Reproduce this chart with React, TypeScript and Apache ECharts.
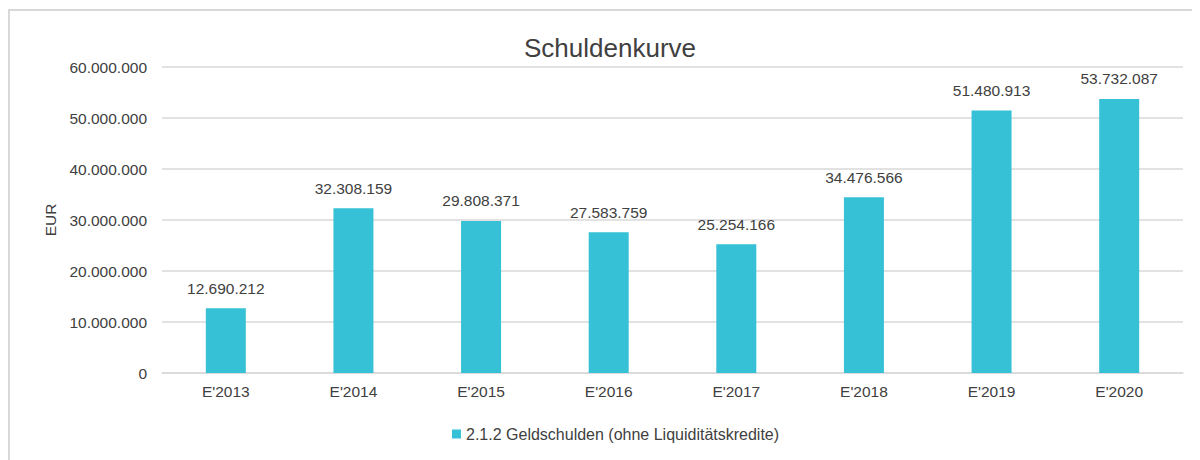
import React, { useEffect, useRef } from "react";
import * as echarts from "echarts";

const categories = ["E'2013", "E'2014", "E'2015", "E'2016", "E'2017", "E'2018", "E'2019", "E'2020"];
const values = [12690212, 32308159, 29808371, 27583759, 25254166, 34476566, 51480913, 53732087];
const seriesName = "2.1.2 Geldschulden (ohne Liquiditätskredite)";
const chartTitle = "Schuldenkurve";
const yAxisName = "EUR";
const yMax = 60000000;
const yInterval = 10000000;

const FONT = "'Liberation Sans', Arial, sans-serif";
const TEXT = "#404040";

function fmt(v: number): string {
  return Math.round(v).toString().replace(/\B(?=(\d{3})+(?!\d))/g, ".");
}

export default function App() {
  const ref = useRef<HTMLDivElement>(null);
  useEffect(() => {
    if (!ref.current) return;
    const chart = echarts.init(ref.current, undefined, { renderer: "svg" });
    chart.setOption({
      animation: false,
      textStyle: { fontFamily: FONT, color: TEXT },
      graphic: [
        {
          type: "rect",
          shape: { x: 1, y: 2, width: 3000, height: 3000 },
          style: { fill: "none", stroke: "#d9d9d9", lineWidth: 2 },
          silent: true,
          z: -10,
        },
      ],
      title: {
        text: chartTitle,
        left: 511,
        top: 22,
        textStyle: { fontFamily: FONT, color: TEXT, fontSize: 26, fontWeight: "normal" },
      },
      legend: {
        data: [seriesName],
        bottom: 13,
        left: 439,
        icon: "rect",
        itemWidth: 9,
        itemHeight: 9,
        textStyle: { fontFamily: FONT, color: TEXT, fontSize: 16 },
      },
      grid: { left: 154, right: 17, top: 59, bottom: 87, containLabel: false },
      xAxis: {
        type: "category",
        data: categories,
        axisLine: { lineStyle: { color: "#d9d9d9", width: 1.5 } },
        axisTick: { show: false },
        axisLabel: { color: TEXT, fontFamily: FONT, fontSize: 15.5, margin: 10 },
      },
      yAxis: {
        type: "value",
        min: 0,
        max: yMax,
        interval: yInterval,
        name: yAxisName,
        nameLocation: "middle",
        nameGap: 102,
        nameRotate: 90,
        nameTextStyle: { color: TEXT, fontFamily: FONT, fontSize: 15.5 },
        axisLine: { show: false },
        axisTick: { show: false },
        splitLine: { lineStyle: { color: "#d9d9d9", width: 1.5 } },
        axisLabel: { color: TEXT, fontFamily: FONT, fontSize: 15.5, margin: 15, formatter: (v: number) => fmt(v) },
      },
      series: [
        {
          name: seriesName,
          type: "bar",
          data: values,
          barWidth: 40,
          itemStyle: { color: "#37C1D6" },
          label: {
            show: true,
            position: "top",
            distance: 12,
            color: TEXT,
            fontFamily: FONT,
            fontSize: 15.5,
            formatter: (p: any) => fmt(p.value),
          },
        },
      ],
    });
    return () => chart.dispose();
  }, []);
  return <div ref={ref} style={{ width: 1192, height: 452, background: "#fff" }} />;
}
